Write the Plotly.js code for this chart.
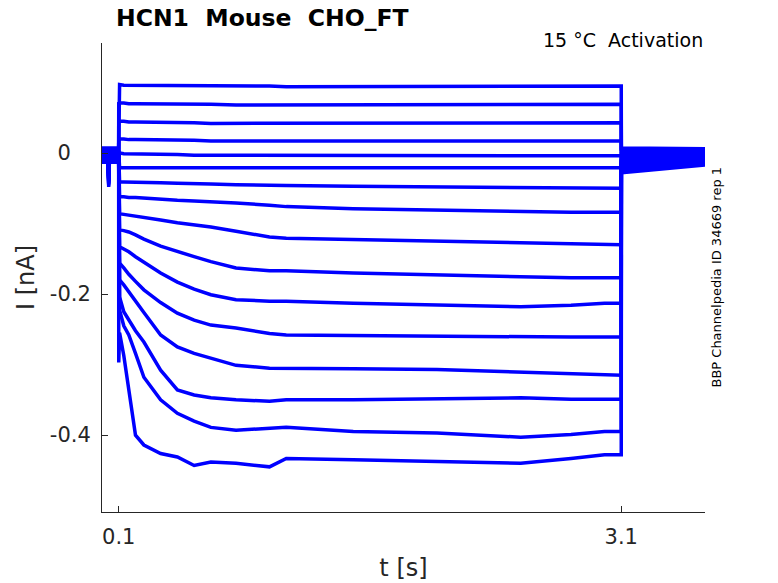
<!DOCTYPE html>
<html>
<head>
<meta charset="utf-8">
<script src="https://cdn.plot.ly/plotly-3.0.1.min.js"></script>
<style>
  html, body { margin: 0; padding: 0; background: #fff; }
  #chart { width: 778px; height: 583px; }
</style>
</head>
<body>
<div id="chart"></div>
<script>
// time base (s): holding, test pulse, return to holding
const tPre = [0, 0.036, 0.04, 0.044, 0.0995];
const tStep = [0.1, 0.105, 0.13, 0.16, 0.2, 0.25, 0.35, 0.45, 0.55, 0.65, 0.8, 1.0, 1.1, 1.5, 2.0, 2.5, 2.8, 3.0, 3.1];
const tTail = [3.1005, 3.6];

// holding current before the pulse (nA) and the capacitive blip
const preBase = [0.007, 0.006, 0.005, 0.004, 0.003, 0.002, 0.001, 0.000, -0.001, -0.002, -0.004, -0.005, -0.007, -0.009, -0.011, -0.013];
const blip = [0, 0, -0.035, 0, 0];

// current during the test pulse (nA), one sweep per voltage step
const sweep01 = [0.097, 0.097, 0.096, 0.096, 0.096, 0.096, 0.095, 0.095, 0.095, 0.095, 0.095, 0.095, 0.094, 0.094, 0.095, 0.095, 0.095, 0.095, 0.095];
const sweep02 = [0.072, 0.071, 0.071, 0.070, 0.070, 0.070, 0.070, 0.069, 0.069, 0.069, 0.068, 0.068, 0.068, 0.068, 0.069, 0.069, 0.069, 0.069, 0.069];
const sweep03 = [0.046, 0.045, 0.045, 0.044, 0.044, 0.044, 0.043, 0.043, 0.043, 0.042, 0.042, 0.042, 0.042, 0.042, 0.042, 0.042, 0.043, 0.043, 0.043];
const sweep04 = [0.021, 0.020, 0.020, 0.019, 0.019, 0.019, 0.018, 0.018, 0.018, 0.017, 0.017, 0.017, 0.017, 0.017, 0.017, 0.017, 0.017, 0.017, 0.017];
const sweep05 = [0.000, 0.000, -0.001, -0.001, -0.001, -0.002, -0.002, -0.002, -0.003, -0.003, -0.003, -0.003, -0.003, -0.004, -0.004, -0.004, -0.004, -0.004, -0.004];
const sweep06 = [-0.020, -0.021, -0.021, -0.021, -0.021, -0.021, -0.020, -0.020, -0.020, -0.020, -0.021, -0.021, -0.021, -0.021, -0.021, -0.021, -0.021, -0.021, -0.021];
const sweep07 = [-0.040, -0.041, -0.041, -0.041, -0.042, -0.042, -0.042, -0.043, -0.043, -0.044, -0.045, -0.046, -0.046, -0.047, -0.048, -0.049, -0.050, -0.050, -0.050];
const sweep08 = [-0.060, -0.062, -0.062, -0.063, -0.063, -0.064, -0.066, -0.067, -0.068, -0.069, -0.071, -0.074, -0.076, -0.079, -0.081, -0.084, -0.084, -0.084, -0.084];
const sweep09 = [-0.085, -0.086, -0.087, -0.088, -0.089, -0.091, -0.095, -0.099, -0.102, -0.105, -0.111, -0.119, -0.121, -0.123, -0.125, -0.128, -0.129, -0.130, -0.130];
const sweep10 = [-0.106, -0.109, -0.110, -0.112, -0.116, -0.122, -0.132, -0.140, -0.147, -0.154, -0.163, -0.167, -0.167, -0.170, -0.173, -0.176, -0.177, -0.177, -0.177];
const sweep11 = [-0.130, -0.133, -0.136, -0.140, -0.147, -0.155, -0.170, -0.183, -0.193, -0.201, -0.208, -0.210, -0.210, -0.213, -0.216, -0.218, -0.216, -0.213, -0.213];
const sweep12 = [-0.150, -0.156, -0.163, -0.172, -0.182, -0.194, -0.212, -0.227, -0.237, -0.244, -0.248, -0.256, -0.258, -0.259, -0.259, -0.261, -0.261, -0.261, -0.261];
const sweep13 = [-0.172, -0.180, -0.187, -0.197, -0.210, -0.226, -0.258, -0.275, -0.284, -0.291, -0.301, -0.305, -0.305, -0.306, -0.307, -0.311, -0.313, -0.315, -0.315];
const sweep14 = [-0.195, -0.204, -0.225, -0.237, -0.252, -0.268, -0.308, -0.336, -0.343, -0.347, -0.350, -0.352, -0.350, -0.350, -0.349, -0.347, -0.349, -0.349, -0.349];
const sweep15 = [-0.212, -0.223, -0.245, -0.258, -0.284, -0.318, -0.350, -0.369, -0.380, -0.389, -0.393, -0.390, -0.389, -0.395, -0.397, -0.403, -0.399, -0.395, -0.395];
const sweep16 = [-0.297, -0.255, -0.287, -0.332, -0.400, -0.414, -0.426, -0.431, -0.443, -0.438, -0.440, -0.445, -0.433, -0.435, -0.437, -0.440, -0.433, -0.428, -0.428];

// tail current after stepping back (nA)
const tailStart = [0.007, 0.005, 0.003, 0.001, -0.001, -0.003, -0.005, -0.008, -0.010, -0.012, -0.014, -0.017, -0.019, -0.022, -0.025, -0.028];
const tailEnd = [0.006, 0.005, 0.003, 0.002, 0.000, -0.001, -0.003, -0.004, -0.006, -0.007, -0.009, -0.010, -0.012, -0.014, -0.015, -0.017];

const xTicks = [0.1, 3.1];
const xTickText = ['0.1', '3.1'];
const yTicks = [0, -0.2, -0.4];
const yTickText = ['0\u2008\u2007', '-0.2', '-0.4'];

const sweeps = [sweep01, sweep02, sweep03, sweep04, sweep05, sweep06, sweep07, sweep08,
                sweep09, sweep10, sweep11, sweep12, sweep13, sweep14, sweep15, sweep16];

const FONT = 'DejaVu Sans';
const AXIS = '#262626';
const t = tPre.concat(tStep, tTail);

const traces = sweeps.map((s, i) => ({
    x: t,
    y: blip.map(b => preBase[i] + b).concat(s, [tailStart[i], tailEnd[i]]),
    type: 'scatter',
    mode: 'lines',
    line: { color: '#0000ff', width: 3.5 },
    hoverinfo: 'skip',
}));

const layout = {
    width: 778,
    height: 583,
    margin: { l: 102, r: 73, t: 43, b: 71 },
    paper_bgcolor: '#ffffff',
    plot_bgcolor: '#ffffff',
    showlegend: false,
    font: { family: FONT, color: AXIS },
    title: {
        text: '<b>HCN1\u00a0 Mouse\u00a0 CHO_FT</b>',
        font: { family: FONT, size: 23.5, color: '#000000' },
        xref: 'container', x: 116 / 778, xanchor: 'left',
        yref: 'container', y: 1 - 18 / 583, yanchor: 'middle',
    },
    xaxis: {
        range: [0, 3.6],
        tickvals: xTicks, ticktext: xTickText,
        ticks: 'inside', ticklen: 6, tickcolor: AXIS,
        showline: true, linecolor: AXIS, linewidth: 1,
        showgrid: false, zeroline: false,
        tickfont: { family: FONT, size: 21, color: AXIS },
        ticklabelstandoff: 6,
        title: { text: 't [s]', font: { family: FONT, size: 24, color: AXIS }, standoff: 10 },
    },
    yaxis: {
        range: [-0.509, 0.156],
        tickvals: yTicks, ticktext: yTickText,
        ticks: 'inside', ticklen: 6, tickcolor: AXIS,
        showline: true, linecolor: AXIS, linewidth: 1,
        showgrid: false, zeroline: false,
        tickfont: { family: FONT, size: 21, color: AXIS },
        ticklabelstandoff: 6,
        title: { text: 'I [nA]', font: { family: FONT, size: 24, color: AXIS }, standoff: 8 },
    },
    annotations: [
        {
            text: '15 °C\u00a0 Activation',
            xref: 'paper', x: 1, xanchor: 'right',
            yref: 'paper', y: (512 - 40) / 469, yanchor: 'middle',
            showarrow: false,
            font: { family: FONT, size: 19, color: '#000000' },
        },
        {
            text: 'BBP Channelpedia ID 34669 rep 1',
            textangle: -90,
            xref: 'paper', x: (716 - 102) / 603, xanchor: 'center',
            yref: 'paper', y: 0.5, yanchor: 'middle',
            showarrow: false,
            font: { family: FONT, size: 13, color: '#000000' },
        },
    ],
};

Plotly.newPlot('chart', traces, layout, { displayModeBar: false, staticPlot: true });
</script>
</body>
</html>
